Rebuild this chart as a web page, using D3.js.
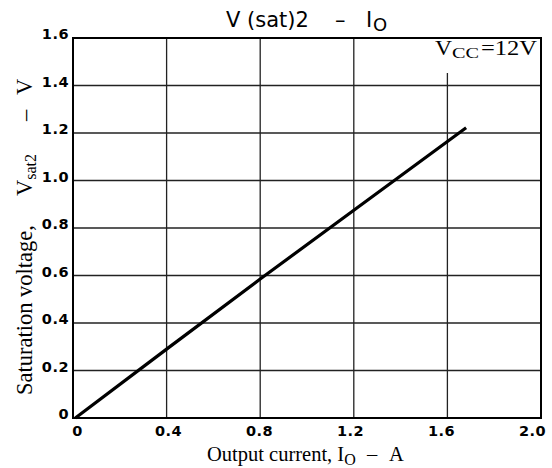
<!DOCTYPE html>
<html><head><meta charset="utf-8">
<script src="https://cdn.jsdelivr.net/npm/d3@7"></script>
<style>body{margin:0;background:#fff}svg{display:block}text{white-space:pre}</style>
</head><body>
<svg id="c" width="552" height="468"></svg>
<script>
const xTicks = [0, 0.4, 0.8, 1.2, 1.6, 2.0];
const xTickLabels = ["0", "0.4", "0.8", "1.2", "1.6", "2.0"];
const yTicks = [0, 0.2, 0.4, 0.6, 0.8, 1.0, 1.2, 1.4, 1.6];
const yTickLabels = ["0", "0.2", "0.4", "0.6", "0.8", "1.0", "1.2", "1.4", "1.6"];
const currentA = [0.01, 0.4, 0.8, 1.2, 1.68];
const vsat2 = [0.0, 0.29, 0.585, 0.875, 1.222];

const svg = d3.select("#c");
const m = {l: 73, r: 541, t: 38, b: 418};
const x = d3.scaleLinear().domain([0, 2.0]).range([m.l, m.r]);
const y = d3.scaleLinear().domain([0, 1.6]).range([m.b, m.t]);
// tick labels in the original are placed slightly left of their grid lines
const xLab = d3.scaleLinear().domain([0, 2.0]).range([77, 532]);
const SERIF = "'Liberation Serif', 'Times New Roman', serif";
const SANS = "'DejaVu Sans', sans-serif";

// grid
const g = svg.append("g");
g.selectAll("line.vx").data(xTicks.slice(1, -1)).join("line")
  .attr("x1", d => x(d)).attr("x2", d => x(d)).attr("y1", y(0)).attr("y2", y(1.6))
  .attr("stroke", "#222").attr("stroke-width", 1.3);
g.selectAll("line.hy").data(yTicks.slice(1, -1)).join("line")
  .attr("x1", x(0)).attr("x2", x(2)).attr("y1", d => y(d)).attr("y2", d => y(d))
  .attr("stroke", "#222").attr("stroke-width", 1.3);

// axes via d3
const xa = svg.append("g").attr("transform", `translate(0,${m.b})`)
  .call(d3.axisBottom(xLab).tickValues(xTicks).tickFormat((d, i) => xTickLabels[i]).tickSize(0).tickPadding(8));
const ya = svg.append("g").attr("transform", `translate(${m.l},0)`)
  .call(d3.axisLeft(y).tickValues(yTicks).tickFormat((d, i) => yTickLabels[i]).tickSize(0).tickPadding(4));
[xa, ya].forEach(a => {
  a.select(".domain").remove();
  a.selectAll("text").attr("font-family", SANS).attr("font-weight", "bold")
    .attr("font-size", 14.5).attr("letter-spacing", 0.5).attr("fill", "#000");
});
ya.selectAll("text").attr("dy", "0.05em");

// label background + Vcc label
const lbl = svg.append("g");
lbl.append("rect").attr("x", 430).attr("y", y(1.6) + 1).attr("width", x(2) - 431).attr("height", 34).attr("fill", "#fff");
const vt = lbl.append("text").attr("y", 55)
  .attr("font-family", SERIF).attr("font-size", 20).attr("fill", "#000");
vt.append("tspan").attr("x", 435).text("V").attr("textLength", 17).attr("lengthAdjust", "spacingAndGlyphs");
vt.append("tspan").attr("x", 452).attr("dy", 3).text("CC").attr("font-size", 15).attr("textLength", 27).attr("lengthAdjust", "spacingAndGlyphs");
vt.append("tspan").attr("x", 481).attr("dy", -3).text("=12V").attr("textLength", 56).attr("lengthAdjust", "spacingAndGlyphs");

// frame
svg.append("rect").attr("x", m.l).attr("y", m.t).attr("width", m.r - m.l).attr("height", m.b - m.t)
  .attr("fill", "none").attr("stroke", "#000").attr("stroke-width", 2);

// curve
const pts = currentA.map((c, i) => [c, vsat2[i]]);
svg.append("path").datum(pts)
  .attr("d", d3.line().x(d => x(d[0])).y(d => y(d[1])))
  .attr("fill", "none").attr("stroke", "#000").attr("stroke-width", 3.2);

// title
const t = svg.append("text").attr("y", 27)
  .attr("font-family", SANS).attr("font-size", 21).attr("fill", "#000");
t.append("tspan").attr("x", 226).text("V (sat)2");
t.append("tspan").attr("x", 335).text("\u2013");
t.append("tspan").attr("x", 366).text("I");
t.append("tspan").attr("x", 373).attr("dy", 4).attr("font-size", 18).text("O");

// x label
const xl = svg.append("text").attr("y", 461)
  .attr("font-family", SERIF).attr("font-size", 20.5).attr("fill", "#000");
xl.append("tspan").attr("x", 207).text("Output current, I");
xl.append("tspan").attr("dy", 4).attr("font-size", 16).text("O");
xl.append("tspan").attr("x", 367).attr("dy", -4).text("\u2013");
xl.append("tspan").attr("x", 389).text("A");

// y label (rotated; text x = -screen y)
const yl = svg.append("text").attr("transform", "translate(32,0) rotate(-90)")
  .attr("font-family", SERIF).attr("font-size", 22.5).attr("fill", "#000");
yl.append("tspan").attr("x", -395).text("Saturation voltage,");
yl.append("tspan").attr("x", -196).text("V");
yl.append("tspan").attr("dy", 4).attr("font-size", 16).text("sat2");
yl.append("tspan").attr("x", -121).attr("dy", -4).text("\u2013");
yl.append("tspan").attr("x", -95).text("V");
</script>
</body></html>
